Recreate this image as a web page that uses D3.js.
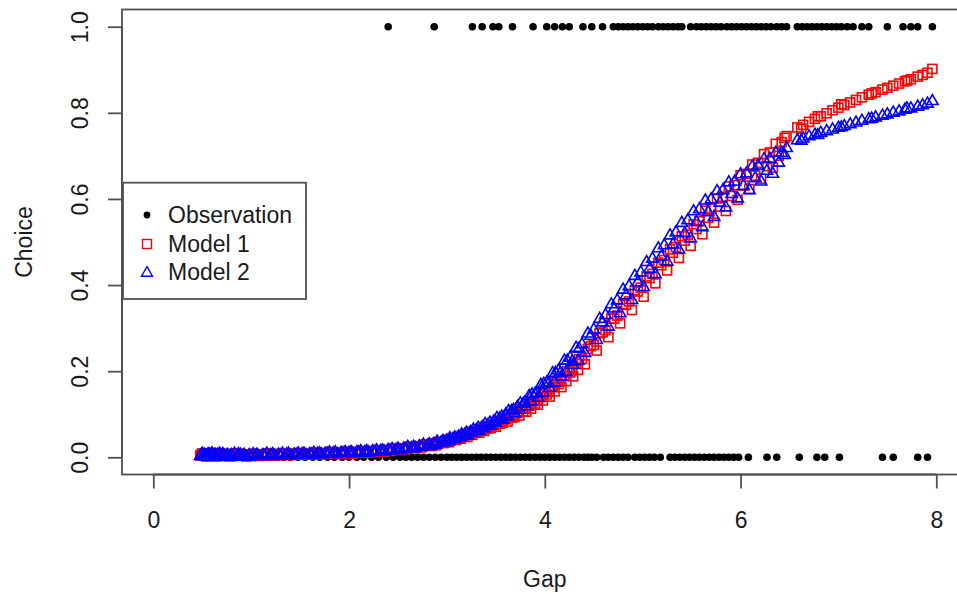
<!DOCTYPE html>
<html>
<head>
<meta charset="utf-8">
<script src="https://cdn.jsdelivr.net/npm/d3@7"></script>
<style>
  html, body { margin: 0; padding: 0; background: #fff; }
  svg { display: block; }
  text { font-family: "Liberation Sans", Arial, Helvetica, sans-serif; fill: #1a1a1a; }
</style>
</head>
<body>
<svg id="chart" width="957" height="594"></svg>
<script>
// ---------------- DATA ----------------
const xTicks = [0, 2, 4, 6, 8];
const yTicks = [0.0, 0.2, 0.4, 0.6, 0.8, 1.0];
const xLabel = "Gap";
const yLabel = "Choice";
const legendLabels = ["Observation", "Model 1", "Model 2"];

// Observations with Choice = 1
const obsOneGap = [2.40, 2.87, 3.26, 3.36, 3.47, 3.53, 3.67, 3.88, 4.02, 4.10,
  4.18, 4.25, 4.39, 4.48, 4.59, 4.70, 4.75, 4.80, 4.85, 4.90,
  4.95, 5.00, 5.05, 5.10, 5.16, 5.21, 5.26, 5.31, 5.36, 5.40,
  5.49, 5.55, 5.60, 5.65, 5.70, 5.75, 5.80, 5.86, 5.91, 5.96,
  6.01, 6.06, 6.11, 6.16, 6.21, 6.26, 6.31, 6.37, 6.42, 6.47,
  6.58, 6.63, 6.68, 6.73, 6.78, 6.83, 6.88, 6.93, 6.98, 7.03,
  7.09, 7.15, 7.24, 7.31, 7.50, 7.66, 7.74, 7.81, 7.96];

// Observations with Choice = 0
const obsZeroGap = [0.50, 0.55, 0.60, 0.66, 0.72, 0.80, 0.88, 0.95, 1.03, 1.10,
  1.18, 1.25, 1.33, 1.40, 1.48, 1.55, 1.63, 1.70, 1.78, 1.85,
  1.93, 2.00, 2.08, 2.15, 2.23, 2.30, 2.38, 2.45, 2.52, 2.58,
  2.64, 2.70, 2.76, 2.82, 2.88, 2.94, 3.00, 3.05, 3.10, 3.15,
  3.20, 3.25, 3.30, 3.35, 3.40, 3.45, 3.50, 3.55, 3.60, 3.65,
  3.70, 3.75, 3.80, 3.85, 3.90, 3.95, 4.00, 4.05, 4.10, 4.15,
  4.20, 4.25, 4.30, 4.35, 4.40, 4.44, 4.48, 4.53, 4.60, 4.65,
  4.70, 4.75, 4.80, 4.85, 4.92, 4.97, 5.02, 5.07, 5.12, 5.18,
  5.28, 5.33, 5.38, 5.43, 5.48, 5.53, 5.58, 5.63, 5.68, 5.73,
  5.78, 5.83, 5.88, 5.93, 5.98, 6.08, 6.27, 6.37, 6.60, 6.78,
  6.86, 7.01, 7.45, 7.56, 7.81, 7.91];

// Model predictions (first block of observations)
const modelGap = [0.48, 0.52, 0.55, 0.58, 0.62, 0.66, 0.70, 0.75, 0.80, 0.86,
  0.92, 0.98, 1.05, 1.12, 1.20, 1.28, 1.36, 1.44, 1.52, 1.60,
  1.68, 1.76, 1.84, 1.92, 2.00, 2.08, 2.16, 2.24, 2.32, 2.40,
  2.48, 2.56, 2.64, 2.72, 2.80, 2.87, 2.94, 3.00, 3.06, 3.12,
  3.18, 3.24, 3.30, 3.36, 3.42, 3.48, 3.54, 3.60, 3.66, 3.72,
  3.78, 3.84, 3.90, 3.96, 4.02, 4.08, 4.14, 4.20, 4.26, 4.32,
  4.38, 4.44, 4.50, 4.56, 4.62, 4.68, 4.74, 4.80, 4.86, 4.92,
  4.98, 5.04, 5.10, 5.16, 5.22, 5.28, 5.34, 5.40, 5.46, 5.52,
  5.58, 5.64, 5.70, 5.76, 5.82, 5.88, 5.94, 6.00, 6.06, 6.12,
  6.18, 6.24, 6.30, 6.36, 6.42, 6.47, 6.58, 6.64, 6.70, 6.76,
  6.82, 6.88, 6.94, 7.00, 7.06, 7.12, 7.18, 7.24, 7.31, 7.38,
  7.45, 7.50, 7.56, 7.62, 7.68, 7.74, 7.81, 7.86, 7.91, 7.96];

const model1 = [0.004, 0.008, 0.003, 0.006, 0.004, 0.007, 0.003, 0.005, 0.006, 0.004,
  0.005, 0.006, 0.004, 0.006, 0.005, 0.006, 0.007, 0.006, 0.007, 0.008,
  0.008, 0.009, 0.009, 0.011, 0.010, 0.012, 0.012, 0.014, 0.015, 0.017,
  0.018, 0.021, 0.022, 0.026, 0.028, 0.032, 0.034, 0.039, 0.041, 0.046,
  0.049, 0.055, 0.058, 0.064, 0.067, 0.075, 0.078, 0.088, 0.092, 0.103,
  0.107, 0.120, 0.125, 0.140, 0.146, 0.163, 0.170, 0.189, 0.197, 0.218,
  0.228, 0.252, 0.261, 0.288, 0.295, 0.322, 0.329, 0.356, 0.362, 0.388,
  0.394, 0.420, 0.426, 0.452, 0.458, 0.483, 0.488, 0.513, 0.517, 0.541,
  0.548, 0.573, 0.577, 0.601, 0.605, 0.629, 0.632, 0.655, 0.658, 0.680,
  0.684, 0.704, 0.708, 0.728, 0.732, 0.746, 0.766, 0.772, 0.779, 0.786,
  0.792, 0.799, 0.806, 0.812, 0.818, 0.824, 0.830, 0.836, 0.842, 0.848,
  0.854, 0.858, 0.863, 0.868, 0.873, 0.878, 0.884, 0.888, 0.893, 0.902];

const model2 = [0.003, 0.006, 0.002, 0.005, 0.003, 0.006, 0.002, 0.004, 0.005, 0.003,
  0.004, 0.005, 0.004, 0.005, 0.005, 0.006, 0.006, 0.006, 0.007, 0.007,
  0.008, 0.008, 0.009, 0.010, 0.010, 0.012, 0.012, 0.014, 0.014, 0.017,
  0.017, 0.020, 0.021, 0.025, 0.027, 0.031, 0.034, 0.039, 0.042, 0.048,
  0.052, 0.058, 0.063, 0.070, 0.075, 0.083, 0.090, 0.099, 0.107, 0.117,
  0.124, 0.142, 0.147, 0.168, 0.173, 0.195, 0.201, 0.224, 0.231, 0.254,
  0.262, 0.287, 0.296, 0.321, 0.330, 0.355, 0.364, 0.389, 0.397, 0.421,
  0.429, 0.453, 0.461, 0.485, 0.492, 0.515, 0.522, 0.544, 0.550, 0.571,
  0.576, 0.596, 0.599, 0.618, 0.620, 0.638, 0.640, 0.657, 0.659, 0.675,
  0.677, 0.692, 0.693, 0.707, 0.707, 0.718, 0.736, 0.740, 0.745, 0.749,
  0.753, 0.757, 0.761, 0.765, 0.769, 0.773, 0.777, 0.781, 0.785, 0.789,
  0.793, 0.796, 0.800, 0.803, 0.807, 0.810, 0.814, 0.817, 0.821, 0.827];

// Model predictions (second block of observations)
const modelGapB = [0.50, 0.54, 0.57, 0.60, 0.64, 0.68, 0.72, 0.78, 0.83, 0.89,
  0.95, 1.02, 1.08, 1.16, 1.24, 1.32, 1.40, 1.48, 1.56, 1.64,
  1.72, 1.80, 1.88, 1.96, 2.04, 2.12, 2.20, 2.28, 2.36, 2.44,
  2.52, 2.60, 2.68, 2.76, 2.84, 2.90, 2.97, 3.03, 3.09, 3.15,
  3.21, 3.27, 3.33, 3.39, 3.45, 3.51, 3.57, 3.63, 3.69, 3.75,
  3.81, 3.87, 3.93, 3.99, 4.05, 4.11, 4.17, 4.23, 4.29, 4.35,
  4.41, 4.47, 4.53, 4.59, 4.65, 4.71, 4.77, 4.83, 4.89, 4.95,
  5.01, 5.07, 5.13, 5.19, 5.25, 5.31, 5.37, 5.43, 5.49, 5.55,
  5.61, 5.67, 5.73, 5.79, 5.85, 5.91, 5.97, 6.03, 6.09, 6.15,
  6.21, 6.27, 6.33, 6.39, 6.45, 6.62, 6.79, 7.03, 7.34, 7.70];

const model1B = [0.009, 0.002, 0.007, 0.010, 0.002, 0.009, 0.006, 0.002, 0.009, 0.007,
  0.002, 0.008, 0.003, 0.009, 0.004, 0.009, 0.005, 0.010, 0.006, 0.011,
  0.007, 0.012, 0.008, 0.013, 0.009, 0.014, 0.011, 0.016, 0.013, 0.019,
  0.017, 0.024, 0.021, 0.029, 0.026, 0.035, 0.033, 0.042, 0.040, 0.050,
  0.047, 0.060, 0.057, 0.071, 0.068, 0.084, 0.080, 0.098, 0.093, 0.113,
  0.106, 0.130, 0.122, 0.150, 0.141, 0.174, 0.163, 0.200, 0.188, 0.228,
  0.216, 0.258, 0.248, 0.290, 0.279, 0.322, 0.311, 0.354, 0.342, 0.385,
  0.373, 0.416, 0.404, 0.446, 0.434, 0.475, 0.463, 0.503, 0.491, 0.530,
  0.518, 0.556, 0.545, 0.582, 0.572, 0.607, 0.598, 0.631, 0.623, 0.654,
  0.647, 0.676, 0.673, 0.700, 0.742, 0.763, 0.792, 0.820, 0.845, 0.875];

const model2B = [0.008, 0.001, 0.006, 0.009, 0.001, 0.008, 0.005, 0.001, 0.008, 0.006,
  0.001, 0.007, 0.002, 0.008, 0.003, 0.008, 0.004, 0.009, 0.005, 0.010,
  0.006, 0.011, 0.007, 0.012, 0.009, 0.014, 0.011, 0.016, 0.013, 0.019,
  0.016, 0.024, 0.021, 0.029, 0.026, 0.036, 0.034, 0.044, 0.042, 0.053,
  0.050, 0.064, 0.061, 0.077, 0.073, 0.091, 0.087, 0.107, 0.102, 0.125,
  0.118, 0.146, 0.138, 0.170, 0.161, 0.196, 0.187, 0.224, 0.214, 0.252,
  0.242, 0.282, 0.272, 0.313, 0.303, 0.345, 0.334, 0.376, 0.365, 0.406,
  0.395, 0.437, 0.425, 0.466, 0.454, 0.494, 0.482, 0.520, 0.508, 0.546,
  0.534, 0.569, 0.558, 0.591, 0.580, 0.611, 0.601, 0.630, 0.620, 0.648,
  0.640, 0.665, 0.658, 0.684, 0.702, 0.735, 0.748, 0.766, 0.786, 0.810];

// Model predictions (third block of observations, low-gap region)
const modelGapC = [0.49, 0.53, 0.56, 0.59, 0.63, 0.67, 0.71, 0.76, 0.81, 0.87,
  0.93, 1.00, 1.06, 1.14, 1.22, 1.30, 1.38, 1.46, 1.54, 1.62,
  1.70, 1.78, 1.86, 1.94, 2.02, 2.10, 2.18, 2.26, 2.34, 2.42,
  2.50, 2.58, 2.66, 2.74, 2.82, 2.89, 2.96, 3.02, 3.08, 3.14,
  3.20, 3.26, 3.32, 3.38, 3.44, 3.50, 3.56, 3.62, 3.68, 3.74,
  3.80, 3.86, 3.92, 3.98, 4.04, 4.10, 4.16, 4.22, 4.28, 4.34];

const model1C = [0.006, 0.005, 0.008, 0.003, 0.007, 0.004, 0.008, 0.006, 0.003, 0.008,
  0.006, 0.003, 0.007, 0.004, 0.008, 0.005, 0.009, 0.006, 0.009, 0.007,
  0.010, 0.008, 0.011, 0.009, 0.012, 0.011, 0.014, 0.012, 0.016, 0.015,
  0.020, 0.019, 0.024, 0.023, 0.029, 0.028, 0.036, 0.035, 0.044, 0.043,
  0.053, 0.052, 0.062, 0.061, 0.072, 0.071, 0.083, 0.083, 0.097, 0.097,
  0.113, 0.113, 0.131, 0.132, 0.152, 0.153, 0.176, 0.177, 0.202, 0.203];

const model2C = [0.005, 0.004, 0.007, 0.002, 0.006, 0.003, 0.007, 0.005, 0.002, 0.007,
  0.005, 0.002, 0.006, 0.003, 0.007, 0.004, 0.008, 0.005, 0.008, 0.006,
  0.009, 0.008, 0.011, 0.009, 0.012, 0.011, 0.014, 0.012, 0.016, 0.015,
  0.020, 0.019, 0.024, 0.024, 0.030, 0.029, 0.038, 0.037, 0.046, 0.046,
  0.057, 0.056, 0.068, 0.067, 0.080, 0.080, 0.094, 0.094, 0.110, 0.110,
  0.128, 0.129, 0.149, 0.150, 0.172, 0.173, 0.196, 0.198, 0.222, 0.224];

// ---------------- CHART ----------------
const svg = d3.select("#chart");
const x = d3.scaleLinear().domain([0, 8]).range([153.3, 936.3]);
const y = d3.scaleLinear().domain([0, 1]).range([457.3, 26.7]);
const boxL = x(-0.32), boxR = x(8.32), boxT = y(1.04), boxB = y(-0.04);
const axisColor = "#505050";
const fontSize = 23;

// Observations
const obs = obsOneGap.map(g => ({g, c: 1})).concat(obsZeroGap.map(g => ({g, c: 0})));
svg.append("g").selectAll("circle").data(obs).join("circle")
  .attr("cx", d => x(d.g)).attr("cy", d => y(d.c)).attr("r", 3.8)
  .attr("fill", "#000");

const pair = (gs, ps) => gs.map((g, i) => ({g, p: ps[i]}));

// Model 1: open red squares
const sq = 9;
const m1 = pair(modelGap, model1).concat(pair(modelGapB, model1B), pair(modelGapC, model1C))
  .sort((a, b) => a.g - b.g);
svg.append("g").selectAll("rect").data(m1).join("rect")
  .attr("x", d => x(d.g) - sq / 2).attr("y", d => y(d.p) - sq / 2)
  .attr("width", sq).attr("height", sq)
  .attr("fill", "none").attr("stroke", "#ff0000").attr("stroke-width", 1.6);

// Model 2: open blue triangles
const tri = (cx, cy, s) => {
  const h = s * Math.sqrt(3) / 2;
  return `M${cx},${cy - h * 2 / 3}L${cx + s / 2},${cy + h / 3}L${cx - s / 2},${cy + h / 3}Z`;
};
const m2 = pair(modelGap, model2).concat(pair(modelGapB, model2B), pair(modelGapC, model2C))
  .sort((a, b) => a.g - b.g);
svg.append("g").selectAll("path").data(m2).join("path")
  .attr("d", d => tri(x(d.g), y(d.p), 11.5))
  .attr("fill", "none").attr("stroke", "#0000ff").attr("stroke-width", 1.6);

// Box
svg.append("rect").attr("x", boxL).attr("y", boxT)
  .attr("width", boxR - boxL).attr("height", boxB - boxT)
  .attr("fill", "none").attr("stroke", axisColor).attr("stroke-width", 1.8);

// X axis
const xAxis = d3.axisBottom(x).tickValues(xTicks).tickSize(14).tickPadding(25)
  .tickFormat(d3.format("d"));
const gx = svg.append("g").attr("transform", `translate(0,${boxB})`).call(xAxis);
gx.select(".domain").attr("stroke", axisColor).attr("stroke-width", 1.8)
  .attr("d", `M${x(0)},0H${x(8)}`);
gx.selectAll(".tick line").attr("stroke", axisColor).attr("stroke-width", 1.8);
gx.selectAll(".tick text").attr("font-size", fontSize).attr("fill", "#1a1a1a")
  .attr("font-family", "Liberation Sans, Arial, sans-serif").attr("dy", "0.35em")
  .attr("y", 45);

// Y axis
const yAxis = d3.axisLeft(y).tickValues(yTicks).tickSize(14).tickFormat(d3.format(".1f"));
const gy = svg.append("g").attr("transform", `translate(${boxL},0)`).call(yAxis);
gy.select(".domain").attr("stroke", axisColor).attr("stroke-width", 1.8)
  .attr("d", `M0,${y(0)}V${y(1)}`);
gy.selectAll(".tick line").attr("stroke", axisColor).attr("stroke-width", 1.8);
gy.selectAll(".tick text").attr("font-size", fontSize).attr("fill", "#1a1a1a")
  .attr("font-family", "Liberation Sans, Arial, sans-serif")
  .attr("x", null).attr("dy", null)
  .attr("text-anchor", "middle")
  .attr("transform", `translate(${88 - boxL},0) rotate(-90)`);

// Axis titles
svg.append("text").attr("x", (boxL + boxR) / 2).attr("y", 587)
  .attr("text-anchor", "middle").attr("font-size", fontSize).text(xLabel);
svg.append("text").attr("transform", `translate(32,${(boxT + boxB) / 2}) rotate(-90)`)
  .attr("text-anchor", "middle").attr("font-size", fontSize).text(yLabel);

// Legend
const lg = svg.append("g");
lg.append("rect").attr("x", 123).attr("y", 182.7).attr("width", 183).attr("height", 116.3)
  .attr("fill", "#fff").attr("stroke", axisColor).attr("stroke-width", 1.8);
const rows = [215, 244, 272];
lg.append("circle").attr("cx", 147).attr("cy", rows[0]).attr("r", 3.4).attr("fill", "#000");
lg.append("rect").attr("x", 147 - 4.5).attr("y", rows[1] - 4.5).attr("width", 9).attr("height", 9)
  .attr("fill", "none").attr("stroke", "#ff0000").attr("stroke-width", 1.4);
lg.append("path").attr("d", tri(147, rows[2] + 1, 11))
  .attr("fill", "none").attr("stroke", "#0000ff").attr("stroke-width", 1.4);
legendLabels.forEach((t, i) => {
  lg.append("text").attr("x", 168).attr("y", rows[i] + 8).attr("font-size", fontSize).text(t);
});
</script>
</body>
</html>
